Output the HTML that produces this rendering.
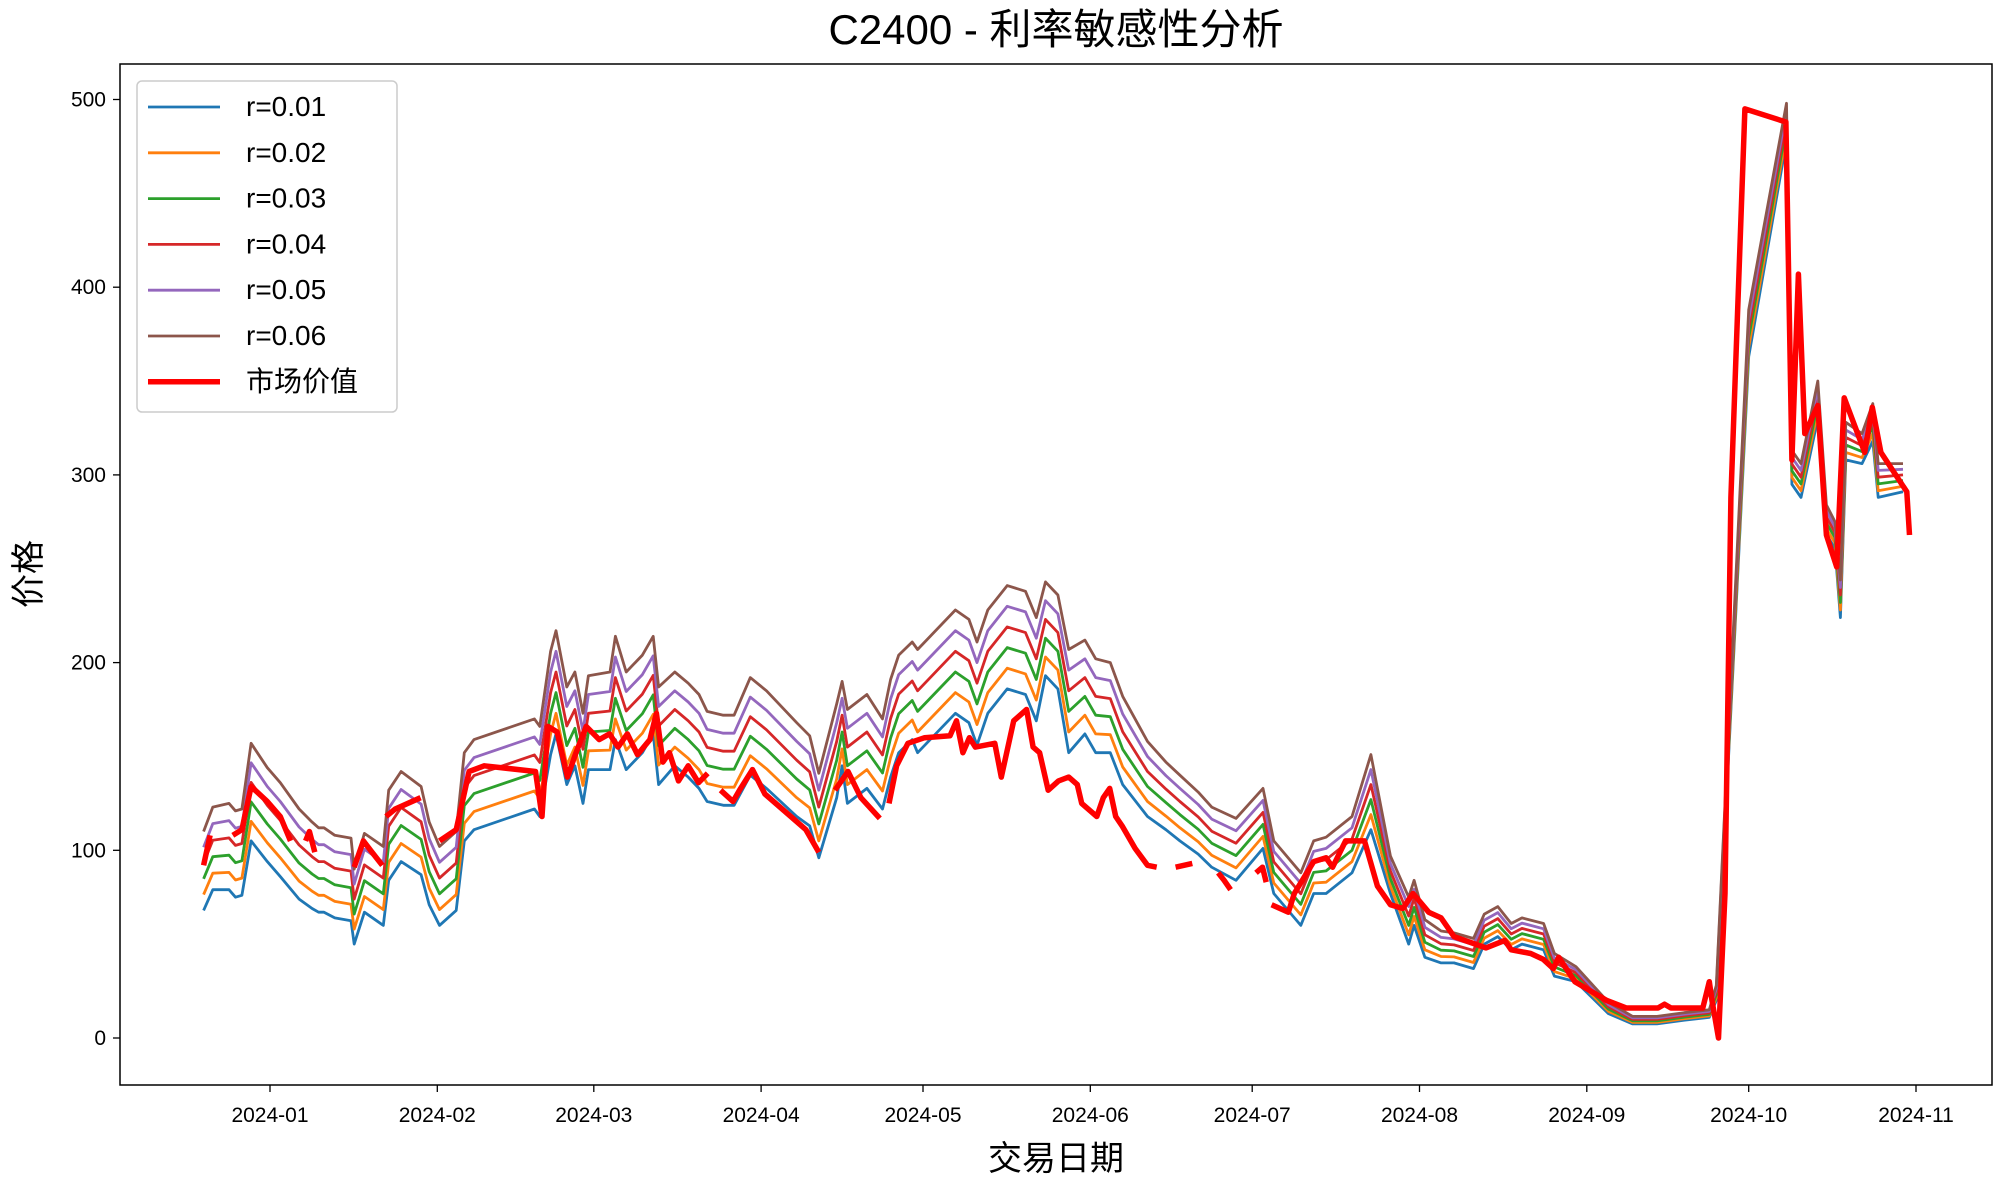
<!DOCTYPE html>
<html><head><meta charset="utf-8">
<style>
html,body{margin:0;padding:0;background:#fff;}
svg{display:block;}
text{font-family:"Liberation Sans","WenQuanYi Zen Hei","Noto Sans CJK SC",sans-serif;fill:#000;}
</style></head>
<body>
<svg id="chart" width="2000" height="1185" viewBox="0 0 2000 1185" xmlns="http://www.w3.org/2000/svg">
<rect x="0" y="0" width="2000" height="1185" fill="#fff"/>
<text x="1056" y="44" font-size="42" text-anchor="middle">C2400 - 利率敏感性分析</text>
<g id="plot"></g>
<rect x="120" y="64" width="1872" height="1021" fill="none" stroke="#000" stroke-width="1.5"/>
<g id="xticks"></g>
<g id="yticks"></g>
<text x="1056" y="1170" font-size="34" text-anchor="middle">交易日期</text>
<text x="0" y="0" font-size="34" text-anchor="middle" transform="translate(40,574) rotate(-90)">价格</text>
<g id="legend"></g>
</svg>
<script>
// day offsets from 2024-01-01 for model series
const modelDays = [-12.3,-10.6,-7.6,-6.4,-5.2,-3.5,-0.5,1.9,5.4,7.8,9,10,12,15,15.6,17.5,21,22,24.3,28,29.5,31.4,34.5,36,37.8,49,50,52,53,55,56.5,58,59,63,64,66,69,71,72,75,77.5,79.5,81,84,86,89,92,97.6,100,101.7,105,106,107,110.6,113.5,115,116.5,119,120,127,129.5,131,133,136.6,140,142,143.7,146,148,151,153,155.7,158,162.6,166,168.6,172,174.5,179,184,186,191,193.4,195.7,200.5,204,207.6,211,212,214,217,219.4,223,225,227.5,230,232,236,238,242,248,252.5,257,262,266.7,268,274,281,282,283.7,286.8,288.4,290,291,292,295,297,298,302.6,304];
// r=0.01 values
const baseValues = [68,79,79,75,76,105,94,86,74,69,67,67,64,62.5,50,67,60,84,94,87,71,60,68,105,111,122,118,151,162,135,145,125,143,143,159,143,152,162,135,145,139,133,126,124,124,140,133,118,113,96,128,145,125,133,122,139,152,159,152,173,168,156,173,186,183,169,193,186,152,162,152,152,135,118,111,105,98,91,84,101,77,60,77,77,88,111,77,50,60,43,40,40,37,50,54,47,50,47,33,30,13,7.5,7.5,9.5,11,20,363,478,295,288,330,268,261,224,308,306,318,288,291,244];
// price increment per +0.01 rate step (read as gap between r=0.01 and r=0.06, divided by 5)
const spreadTotal = [42,44,46,46,46,52,50,50,48,46,45,45,44,44,40,42,42,48,48,47,44,42,42,47,48,48,48,55,55,52,50,48,50,52,55,52,52,52,52,50,50,50,48,48,48,52,52,50,48,45,50,45,50,50,48,52,52,52,55,55,55,55,55,55,55,55,50,50,55,50,50,48,47,40,36,35,33,32,33,32,28,28,28,30,30,40,20,25,24,20,17,16,16,16,16,14,14,14,12,8,6,4,4,4,4,8,25,20,18,18,20,16,14,20,20,16,20,18,15];
const rates = ["r=0.01","r=0.02","r=0.03","r=0.04","r=0.05","r=0.06"];
const colors = ["#1f77b4","#ff7f0e","#2ca02c","#d62728","#9467bd","#8c564b"];
// market value (null = gap)
const marketDays = [-12.3,-11.1,-9,-6.9,-5.2,-3.5,-0.5,1.9,3.8,5,6.6,7.3,8.3,12,15.6,17.3,18.9,20.8,21.2,21.5,23.2,27.9,29.5,31.4,34.5,36.9,39.7,49.2,50.4,51.5,53.2,55.1,56.7,58.6,61,62.9,64.5,66.2,68.1,70.4,71.6,72.8,74,75.7,77.5,79.4,81.1,82.3,83.5,85.8,87,89.4,91.7,96.5,99.3,101.7,103,104.7,107.1,109.5,113,114,114.7,116.1,118.2,121.3,126,127.2,128.4,129.6,130.7,134.3,135.5,137.8,140.2,141.4,142.6,144.2,146.1,148,149.6,150.4,153.2,154.4,155.6,156.7,157.9,160.3,162.6,164.3,166,167.8,170.9,173,175.7,176.8,178,180,182.7,183.9,184.6,185.1,185.6,188.7,189.8,193.4,195.7,196.9,199.3,202.8,205.2,207.6,209.9,211.8,214.7,217,219.4,225.3,228.8,230,233.6,235.9,237.8,238.8,241.8,247.7,251.3,257.2,258.4,259.6,265.5,266.7,267.2,268.4,269.6,270.7,273.3,280.9,282,283.2,284.4,286.8,288.4,290.3,291.7,295.5,296.9,298.5,303.3,303.8];
const marketValues = [92,108,null,108,111,134,126,118,105,null,105,110,99,null,91,105,99,92,null,118,122,128,null,105,111,142,145,142,118,166,163,139,152,166,159,162,155,162,151,159,173,147,152,137,145,136,141,null,132,126,132,143,130,118,111,99,null,132,142,128,117,null,125,145,157,160,161,169,152,160,155,157,139,169,175,155,152,132,137,139,135,125,118,128,133,118,113,101,92,91,null,91,93,null,88,84,79,null,88,91,83,null,71,67,77,94,96,91,105,105,81,71,69,77,67,64,54,48,52,47,45,42,37,43,30,20,16,16,18,16,16,30,20,0,77,288,495,488,308,407,322,337,268,251,341,312,336,312,291,268];
const xTickLabels = ["2024-01","2024-02","2024-03","2024-04","2024-05","2024-06","2024-07","2024-08","2024-09","2024-10","2024-11"];
const xTickDays = [0,31,60,91,121,152,182,213,244,274,305];
const yTickValues = [0,100,200,300,400,500];

const NS = "http://www.w3.org/2000/svg";
const X0 = 270, XPD = 1646/305, Y0 = 1038, YPU = 938.5/500;
function xScale(d){ return X0 + d*XPD; }
function yScale(v){ return Y0 - v*YPU; }
function mk(tag, attrs, parent){
  const el = document.createElementNS(NS, tag);
  for (const k in attrs) el.setAttribute(k, attrs[k]);
  parent.appendChild(el);
  return el;
}
const plot = document.getElementById("plot");
// model series
rates.forEach((r,k)=>{
  let d = "";
  modelDays.forEach((day,i)=>{
    const v = baseValues[i] + k*spreadTotal[i]/5;
    d += (i===0?"M":"L") + xScale(day).toFixed(1) + "," + yScale(v).toFixed(1);
  });
  const p = mk("path",{d:d,fill:"none",stroke:colors[k],"stroke-width":"2.8","stroke-linejoin":"round"},plot);
  
  
});
// market series
{
  let d = "", pen = false;
  marketDays.forEach((day,i)=>{
    const v = marketValues[i];
    if (v === null){ pen = false; return; }
    d += (pen?"L":"M") + xScale(day).toFixed(1) + "," + yScale(v).toFixed(1);
    pen = true;
  });
  const p = mk("path",{d:d,fill:"none",stroke:"#ff0000","stroke-width":"5.5","stroke-linejoin":"round"},plot);
  
  
}
// x ticks
const xg = document.getElementById("xticks");
xTickDays.forEach((day,i)=>{
  const x = xScale(day);
  const t = mk("line",{x1:x,x2:x,y1:1085,y2:1092,stroke:"#000","stroke-width":"1.3"},xg);
  
  
  const l = mk("text",{x:x,y:1122,"font-size":"21","text-anchor":"middle"},xg);
  l.textContent = xTickLabels[i];
  
  
});
// y ticks
const yg = document.getElementById("yticks");
yTickValues.forEach(v=>{
  const y = yScale(v);
  const t = mk("line",{x1:113,x2:120,y1:y,y2:y,stroke:"#000","stroke-width":"1.3"},yg);
  
  
  const l = mk("text",{x:106,y:y+7,"font-size":"21","text-anchor":"end"},yg);
  l.textContent = String(v);
  
  
});
// legend
const lg = document.getElementById("legend");
const box = mk("rect",{x:137,y:81,width:260,height:331,rx:5,fill:"#fff","fill-opacity":"0.85",stroke:"#ccc","stroke-width":"1.5"},lg);


const legendLabels = rates.concat(["市场价值"]);
const legendColors = colors.concat(["#ff0000"]);
legendLabels.forEach((lab,i)=>{
  const y = 107 + i*45.8;
  const ln = mk("line",{x1:148,x2:220,y1:y,y2:y,stroke:legendColors[i],"stroke-width": i===6?"5.5":"2.8"},lg);
  
  
  const tx = mk("text",{x:246,y:y+9,"font-size":"28"},lg);
  tx.textContent = lab;
  
  
});
</script>
</body></html>
